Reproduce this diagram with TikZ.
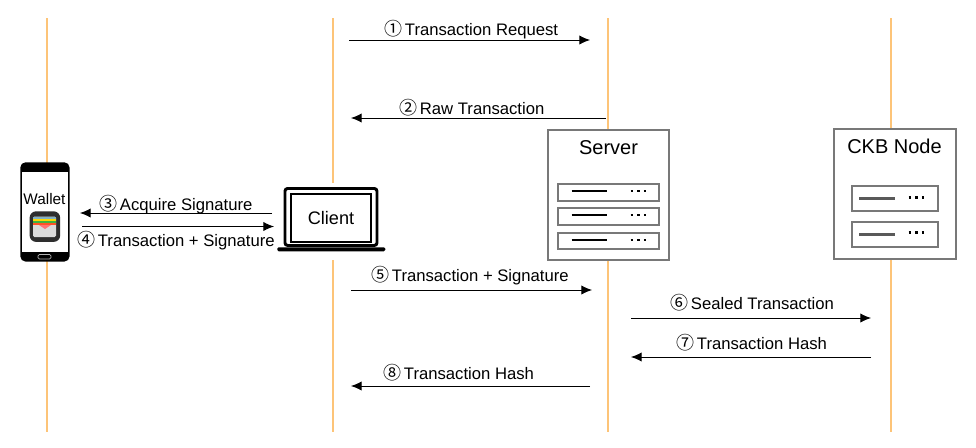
\documentclass[tikz,border=0pt]{standalone}
\usepackage{fontspec}
\setmainfont{Liberation Sans}
\newfontfamily\circfont{Noto Sans CJK SC}
\usetikzlibrary{arrows.meta}
\definecolor{lifecol}{RGB}{253,196,120}
\definecolor{boxgray}{RGB}{120,120,120}
\tikzset{
  lifeline/.style={draw=lifecol,line width=0.76pt},
  msg/.style={draw=black,line width=0.7pt,-{Latex[length=8pt,width=7pt]}},
  lab/.style={inner sep=0pt,font=\fontsize{12.5}{14}\selectfont,text=black,anchor=base west},
  title/.style={inner sep=0pt,font=\fontsize{15}{18}\selectfont,text=black,anchor=base},
  box/.style={draw=boxgray,line width=1.5pt,fill=white,inner sep=0pt,anchor=north west},
  dots/.style={dash pattern=on 1.8pt off 3.1pt,line width=1.8pt,draw=black},
}
\newcommand{\cn}[1]{{\fontsize{13.5}{14}\circfont #1}\hspace{2pt}}
\begin{document}
\begin{tikzpicture}[x=0.75pt,y=-0.75pt]
\useasboundingbox (0,0) rectangle (976,447);
% lifelines
\foreach \n/\x in {a/47,b/333,c/608,d/891}{
  \coordinate (\n t) at (\x,18);
  \coordinate (\n b) at (\x,432);
  \draw[lifeline] (\n t) -- (\n b);
}
% client gap in lifeline
\fill[white] (325,183) rectangle (341,260);
% phone
\node[fill=black,rounded corners=4pt,minimum width=37pt,minimum height=74.5pt,inner sep=0pt,anchor=north west] (phone) at (20,162) {};
\node[fill=white,minimum width=34.5pt,minimum height=59.75pt,inner sep=0pt,anchor=north west] (screen) at (22,172) {};
\draw[white!70!black,line width=0.5pt,rounded corners=1pt] (38,254.5) rectangle (51,259);
\node[title,font=\fontsize{11.5}{14}\selectfont] (wallet) at (44.5,204) {Wallet};
\node[fill=black!82,rounded corners=5pt,minimum width=23pt,minimum height=23pt,inner sep=0pt,anchor=north west] (icon) at (29.3,211) {};
\fill[black!14,rounded corners=1pt] (33,216.5) rectangle (56,237);
\fill[cyan!60!black!60!white] (33,217) rectangle (56,219);
\fill[yellow!75!orange] (33,219) rectangle (56,221);
\fill[green!60!black!75!white] (33,221) rectangle (56,223);
\fill[red!60!orange!85!white] (33,223) rectangle (56,225);
\fill[red!55!white] (39,225) -- (51,225) -- (45,229) -- cycle;
% laptop
\node[draw=black,line width=2.2pt,fill=white,rounded corners=2pt,minimum width=69pt,minimum height=42.75pt,inner sep=0pt,anchor=north west] (laptop) at (283.5,187) {};
\node[draw=black,line width=1.3pt,minimum width=60pt,minimum height=36.5pt,inner sep=0pt] (scr) at (331,218) {\fontsize{13.6}{16}\selectfont Client};
\node[fill=black,minimum width=81pt,minimum height=3pt,inner sep=0pt,rounded corners=1pt,anchor=north west] (base) at (277,247) {};
% server
\node[box,minimum width=90.5pt,minimum height=97.3pt] (server) at (547.3,129.3) {};
\node[title] (servert) at (608.5,154) {Server};
\foreach \n/\y/\m in {s1/183.3/191,s2/207.3/215,s3/231.7/240}{
  \node[box,minimum width=75.5pt,minimum height=12.5pt] (\n) at (557.3,\y) {};
  \draw[line width=1.1pt] (571.7,\m) -- (607,\m);
  \draw[dots] (630.7,\m) -- (647,\m);
}
% ckb
\node[box,minimum width=91.5pt,minimum height=97.3pt] (ckb) at (833.3,128.3) {};
\node[title] (ckbt) at (894.5,153) {CKB Node};
\foreach \n/\y/\m/\d in {k1/185/198.3/197.3,k2/220.7/234.3/232.3}{
  \node[box,minimum width=65pt,minimum height=18.9pt] (\n) at (850.7,\y) {};
  \draw[draw=black!65,line width=2.1pt] (859.3,\m) -- (894.7,\m);
  \draw[dots] (908.7,\d) -- (925,\d);
}
% arrows
\coordinate (m1s) at (349,40);  \coordinate (m1e) at (590,40);
\coordinate (m2s) at (606,118); \coordinate (m2e) at (351,118);
\coordinate (m3s) at (272,213); \coordinate (m3e) at (80,213);
\coordinate (m4s) at (82,226.5);\coordinate (m4e) at (274,226.5);
\coordinate (m5s) at (351,290); \coordinate (m5e) at (592,290);
\coordinate (m6s) at (631,318); \coordinate (m6e) at (871,318);
\coordinate (m7s) at (871,357); \coordinate (m7e) at (631,357);
\coordinate (m8s) at (590,386); \coordinate (m8e) at (351,386);
\foreach \i in {1,...,8}{\draw[msg] (m\i s) -- (m\i e);}
% labels
\node[lab] (l1) at (384,35) {\cn{①}Transaction Request};
\node[lab] (l2) at (399,114) {\cn{②}Raw Transaction};
\node[lab] (l3) at (99,210) {\cn{③}Acquire Signature};
\node[lab] (l4) at (77,246) {\cn{④}Transaction + Signature};
\node[lab] (l5) at (371,281) {\cn{⑤}Transaction + Signature};
\node[lab] (l6) at (670,309) {\cn{⑥}Sealed Transaction};
\node[lab] (l7) at (676,349) {\cn{⑦}Transaction Hash};
\node[lab] (l8) at (383,379) {\cn{⑧}Transaction Hash};
\end{tikzpicture}
\end{document}
